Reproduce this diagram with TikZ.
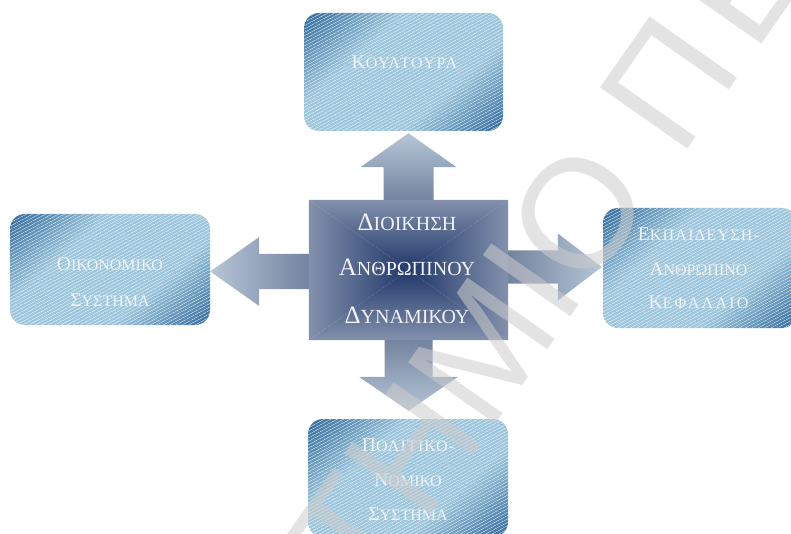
\documentclass[tikz,border=0pt]{standalone}
\usepackage{fontspec}
\setmainfont{Liberation Serif}
\newfontfamily\wmfont{Liberation Sans}
\usetikzlibrary{calc,patterns.meta}

\definecolor{boxdark}{HTML}{2C6699}
\definecolor{boxlight}{HTML}{9DC6DC}
\definecolor{hubdark}{HTML}{20376A}
\definecolor{hubedge}{HTML}{8391AC}
\definecolor{arrownear}{HTML}{74839F}
\definecolor{arrowfar}{HTML}{B6C6D6}
\definecolor{labelwhite}{HTML}{F0F2F4}

% dark corners, wide light middle band
\pgfdeclarehorizontalshading{panelshade}{100bp}{%
  color(0bp)=(boxdark); color(14bp)=(boxdark); color(36bp)=(boxlight);
  color(64bp)=(boxlight); color(86bp)=(boxdark); color(100bp)=(boxdark)}

% small-caps lettering: large initial, smaller rest (optional tracking)
\newcommand\pcap[3][0]{{\fontsize{19.5}{19.5}\selectfont #2}{\fontsize{16}{16}\selectfont\addfontfeature{LetterSpace=#1}#3}}
\newcommand\hcap[2]{{\fontsize{25}{25}\selectfont #1}{\fontsize{20}{20}\selectfont #2}}

\tikzset{
  panel/.style={rectangle, rounded corners=15pt, inner sep=0pt,
    shading=panelshade, shading angle=-48,
    postaction={pattern={Lines[angle=28,distance=3pt,line width=0.3pt]},
      pattern color=white, fill opacity=0.1}},
  lbl/.style={anchor=base, inner sep=0pt, text=labelwhite},
  watermark/.style={anchor=base, inner sep=0pt, rotate=55,
    font=\wmfont\fontsize{155}{155}\selectfont,
    text=white!80!black, text opacity=0.55}
}

\begin{document}
\begin{tikzpicture}[x=1pt,y=-1pt]
\useasboundingbox (0,0) rectangle (791,534);

% outer panels
\node[panel, minimum width=199pt, minimum height=118pt] (culture)   at (403.5,72)  {};
\node[panel, minimum width=200pt, minimum height=111pt] (economy)   at (110,269.5) {};
\node[panel, minimum width=194pt, minimum height=120pt] (education) at (700,268)   {};
\node[panel, minimum width=200pt, minimum height=118pt] (politics)  at (408,478)   {};

% central block (anchors only; filled below)
\node[rectangle, minimum width=199pt, minimum height=140pt, inner sep=0pt] (hub) at (408.5,270) {};

% block arrows
\coordinate (uptip)    at ($(hub.north |- culture.south)+(0,2)$);
\coordinate (downtip)  at ($(hub.south |- politics.north)+(0,-8)$);
\coordinate (lefttip)  at ($(economy.east |- hub.west)+(0,1.5)$);
\coordinate (righttip) at ($(education.west |- hub.east)+(-1,-3)$);

\shade[top color=arrowfar, bottom color=arrownear]
  ($(hub.north)+(-25,0)$) -- ($(uptip)+(-25,34)$) -- ($(uptip)+(-48,34)$) -- (uptip)
  -- ($(uptip)+(48,34)$) -- ($(uptip)+(25,34)$) -- ($(hub.north)+(25,0)$) -- cycle;
\shade[top color=arrownear, bottom color=arrowfar]
  ($(hub.south)+(-24,0)$) -- ($(downtip)+(-24,-34)$) -- ($(downtip)+(-49.5,-34)$) -- (downtip)
  -- ($(downtip)+(49.5,-34)$) -- ($(downtip)+(24,-34)$) -- ($(hub.south)+(24,0)$) -- cycle;
\shade[left color=arrowfar, right color=arrownear]
  (hub.west |- {$(lefttip)+(0,-17.5)$}) -- ($(lefttip)+(49,-17.5)$) -- ($(lefttip)+(49,-34.5)$) -- (lefttip)
  -- ($(lefttip)+(49,34.5)$) -- ($(lefttip)+(49,17.5)$) -- (hub.west |- {$(lefttip)+(0,17.5)$}) -- cycle;
\shade[left color=arrownear, right color=arrowfar]
  (hub.east |- {$(righttip)+(0,-16.5)$}) -- ($(righttip)+(-44,-16.5)$) -- ($(righttip)+(-44,-33.5)$) -- (righttip)
  -- ($(righttip)+(-44,33.5)$) -- ($(righttip)+(-44,16.5)$) -- (hub.east |- {$(righttip)+(0,16.5)$}) -- cycle;

% central block: rectangular gradient from the centre outwards
\shade[top color=hubedge, bottom color=hubdark]
  (hub.north west) -- (hub.north east) -- (hub.center) -- cycle;
\shade[top color=hubdark, bottom color=hubedge]
  (hub.south west) -- (hub.south east) -- (hub.center) -- cycle;
\shade[left color=hubedge, right color=hubdark]
  (hub.north west) -- (hub.south west) -- (hub.center) -- cycle;
\shade[left color=hubdark, right color=hubedge]
  (hub.north east) -- (hub.south east) -- (hub.center) -- cycle;

% labels
\node[lbl] (t1) at (404.5,69) {\pcap[10]{Κ}{ΟΥΛΤΟΥΡΑ}};
\node[lbl] (t2) at (110,270) {\pcap{Ο}{ΙΚΟΝΟΜΙΚΟ}};
\node[lbl] (t3) at (110,306) {\pcap{Σ}{ΥΣΤΗΜΑ}};
\node[lbl] (t4) at (698.5,240.5) {\pcap[8]{Ε}{ΚΠΑΙΔΕΥΣΗ-}};
\node[lbl] (t5) at (698.5,275) {\pcap{Α}{ΝΘΡΩΠΙΝΟ}};
\node[lbl] (t6) at (698.5,308) {\pcap[14]{Κ}{ΕΦΑΛΑΙΟ}};
\node[lbl] (t7) at (408,451.5) {\pcap[7]{Π}{ΟΛΙΤΙΚΟ-}};
\node[lbl] (t8) at (408,486.5) {\pcap{Ν}{ΟΜΙΚΟ}};
\node[lbl] (t9) at (408,520) {\pcap{Σ}{ΥΣΤΗΜΑ}};
\node[lbl] (h1) at (407,230.5) {\hcap{Δ}{ΙΟΙΚΗΣΗ}};
\node[lbl] (h2) at (407,275.5) {\hcap{Α}{ΝΘΡΩΠΙΝΟΥ}};
\node[lbl] (h3) at (407,323) {\hcap{Δ}{ΥΝΑΜΙΚΟΥ}};

% diagonal watermark lettering
\node[watermark] (wm) at (681,159) {\llap{ΤΗΜΙΟ }\rlap{Π\kern16ptΕ}};
\end{tikzpicture}
\end{document}
